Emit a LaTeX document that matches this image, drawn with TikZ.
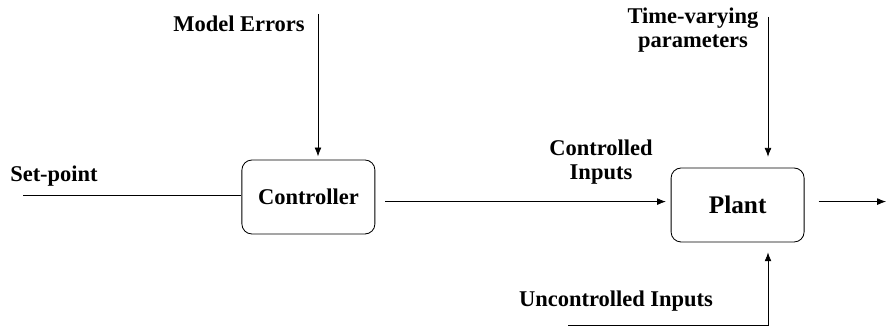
\documentclass[tikz,border=0pt]{standalone}
\usepackage{fontspec}
\setmainfont{Liberation Serif}
\usepackage{tikz}
\usetikzlibrary{arrows.meta, positioning, calc}

\tikzset{
	block/.style={draw, line width=0.6pt, rounded corners=0.25cm, minimum width=3.325cm, minimum height=1.85cm, font=\fontsize{16}{18}\selectfont\bfseries},
	lbl/.style={align=center, font=\fontsize{16}{17}\selectfont\bfseries},
	sig/.style={line width=0.5pt, -{Latex[length=2.2mm, width=1.7mm]}}
}

\begin{document}
\begin{tikzpicture}
			\useasboundingbox (0, 0) rectangle (22.15, 8.15);
			\node [block] (ctrl) at (7.71, 3.225) {Controller};
			\node [block, font=\fontsize{18}{20}\selectfont\bfseries] (plant) at (18.44, 3.025) {Plant};
			\coordinate (sp) at (0.575, 3.275);
			\coordinate (me) at (7.95, 7.8);
			\coordinate (cu) at (0, 3.11);
			\coordinate (tv) at (19.2, 7.725);
			\coordinate (uc) at (14.2, 0.025);
			\coordinate (out) at (22.15, 3.11);
			\draw [line width=0.5pt] (sp) -- (sp -| ctrl.west);
			\draw [sig, shorten >=0.08cm] (me) -- (me |- ctrl.north);
			\draw [sig, shorten <=0.25cm, shorten >=0.12cm] (ctrl.east |- cu) -- (plant.west |- cu);
			\draw [sig, shorten >=0.27cm] (tv) -- (tv |- plant.north);
			\draw [sig, shorten >=0.25cm] (uc) -- (uc -| tv) -- (tv |- plant.south);
			\draw [sig, shorten <=0.35cm] (plant.east |- out) -- (out);
			\node [lbl] (splbl) at (1.35, 3.75) {Set-point};
			\node [lbl] (melbl) at (5.975, 7.55) {Model Errors};
			\node [lbl] (cilbl) at (15.025, 4.1) {Controlled\\Inputs};
			\node [lbl] (tvlbl) at (17.325, 7.4) {Time-varying\\parameters};
			\node [lbl] (uclbl) at (15.4, 0.625) {Uncontrolled Inputs};
		\end{tikzpicture}
\end{document}
